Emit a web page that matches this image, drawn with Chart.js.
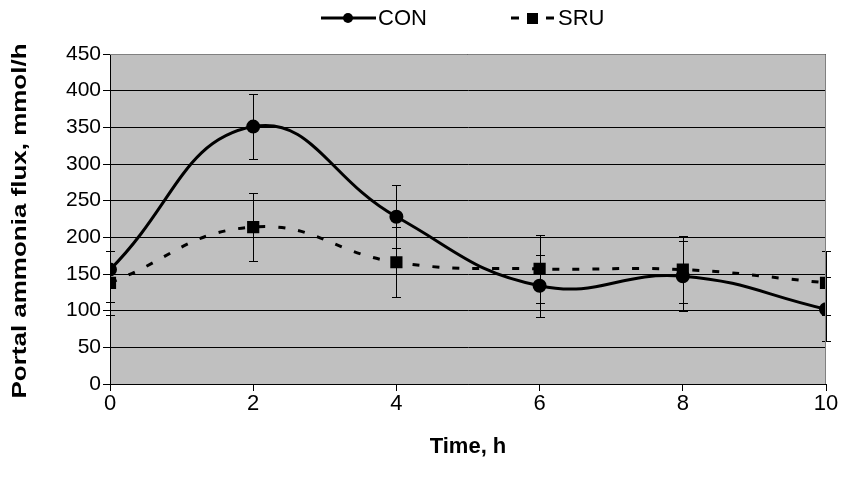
<!DOCTYPE html>
<html>
<head>
<meta charset="utf-8">
<script src="https://cdn.jsdelivr.net/npm/chart.js@4"></script>
<style>
  html, body { margin: 0; padding: 0; background: #fff; }
  #wrap { width: 851px; height: 486px; }
</style>
</head>
<body>
<div id="wrap"><canvas id="c" width="851" height="486"></canvas></div>
<script>
// values
const times = [0, 2, 4, 6, 8, 10];
const conValues = [156, 351, 228, 134, 147, 102];
const conErrors = [44, 44, 43, 42, 48, 44];
const sruValues = [138, 214, 166, 157, 156, 138];
const sruErrors = [44, 46, 48, 46, 46, 44];
const yTicks = [0, 50, 100, 150, 200, 250, 300, 350, 400, 450];
const yTitle = 'Portal ammonia flux, mmol/h';

const toPoints = (xs, ys) => xs.map((x, i) => ({ x: x, y: ys[i] }));

// grey plot area with border
const plotArea = {
  id: 'plotArea',
  beforeDraw(chart) {
    const { ctx, chartArea: a } = chart;
    ctx.save();
    ctx.fillStyle = '#c0c0c0';
    ctx.fillRect(a.left, a.top, a.right - a.left, a.bottom - a.top);
    ctx.restore();
  },
  afterDraw(chart) {
    const { ctx, chartArea: a } = chart;
    ctx.save();
    ctx.strokeStyle = '#808080';
    ctx.lineWidth = 1;
    ctx.beginPath();
    ctx.moveTo(a.left, a.top + 0.5);
    ctx.lineTo(a.right - 0.5, a.top + 0.5);
    ctx.lineTo(a.right - 0.5, a.bottom);
    ctx.stroke();
    ctx.restore();
  }
};

// error bars through the scales
const errorBars = {
  id: 'errorBars',
  beforeDatasetsDraw(chart) {
    const { ctx, scales: { x, y } } = chart;
    const sets = [[conValues, conErrors], [sruValues, sruErrors]];
    ctx.save();
    ctx.strokeStyle = '#000';
    ctx.lineWidth = 1;
    sets.forEach(([vals, errs]) => {
      times.forEach((t, i) => {
        const px = Math.round(x.getPixelForValue(t)) + 0.5;
        const top = Math.round(y.getPixelForValue(vals[i] + errs[i])) + 0.5;
        const bot = Math.round(y.getPixelForValue(vals[i] - errs[i])) + 0.5;
        ctx.beginPath();
        ctx.moveTo(px, top); ctx.lineTo(px, bot);
        ctx.moveTo(px - 4.5, top); ctx.lineTo(px + 4.5, top);
        ctx.moveTo(px - 4.5, bot); ctx.lineTo(px + 4.5, bot);
        ctx.stroke();
      });
    });
    ctx.restore();
  }
};

// legend drawn at the top, like the original
const topLegend = {
  id: 'topLegend',
  afterDraw(chart) {
    const ctx = chart.ctx;
    const yy = 18;
    ctx.save();
    ctx.strokeStyle = '#000';
    ctx.fillStyle = '#000';
    ctx.lineWidth = 3;
    ctx.beginPath();
    ctx.moveTo(321, yy); ctx.lineTo(376, yy);
    ctx.stroke();
    ctx.beginPath();
    ctx.arc(348, yy, 5, 0, Math.PI * 2);
    ctx.fill();
    ctx.fillRect(511, yy - 1.5, 8, 3);
    ctx.fillRect(527, yy - 5, 11, 11);
    ctx.fillRect(546, yy - 1.5, 8, 3);
    ctx.font = '22px "Liberation Sans", Arial, sans-serif';
    ctx.textBaseline = 'middle';
    ctx.fillText('CON', 378, yy + 1);
    ctx.fillText('SRU', 558, yy + 1);
    ctx.restore();
  }
};

// rotated y title, stretched along its length like the original
const yAxisTitle = {
  id: 'yAxisTitle',
  afterDraw(chart) {
    const { ctx, chartArea: a } = chart;
    ctx.save();
    ctx.font = 'bold 21px "Liberation Sans", Arial, sans-serif';
    ctx.fillStyle = '#000';
    ctx.textAlign = 'center';
    ctx.textBaseline = 'middle';
    const w = ctx.measureText(yTitle).width;
    ctx.translate(20, (a.top + a.bottom) / 2 + 2);
    ctx.rotate(-Math.PI / 2);
    ctx.scale(355 / w, 1);
    ctx.fillText(yTitle, 0, 0);
    ctx.restore();
  }
};

new Chart(document.getElementById('c'), {
  type: 'line',
  data: {
    datasets: [
      {
        label: 'CON',
        data: toPoints(times, conValues),
        borderColor: '#000',
        backgroundColor: '#000',
        borderWidth: 3,
        pointStyle: 'circle',
        pointRadius: 5.5,
        tension: 0.45
      },
      {
        label: 'SRU',
        data: toPoints(times, sruValues),
        borderColor: '#000',
        backgroundColor: '#000',
        borderWidth: 3,
        borderDash: [7, 13],
        pointStyle: 'rect',
        pointRadius: 6.5,
        tension: 0.45
      }
    ]
  },
  options: {
    responsive: false,
    animation: false,
    layout: { padding: { left: 0, right: 25, top: 54, bottom: 0 } },
    plugins: {
      legend: { display: false },
      tooltip: { enabled: false }
    },
    scales: {
      x: {
        type: 'linear',
        min: 0,
        max: 10,
        afterBuildTicks(axis) { axis.ticks = times.map(v => ({ value: v })); },
        afterFit(axis) { axis.height = 102; },
        grid: { drawOnChartArea: false, drawTicks: true, tickLength: 7, color: '#000' },
        border: { display: true, color: '#000', width: 1 },
        ticks: {
          color: '#000',
          padding: 0,
          font: { family: '"Liberation Sans Narrow", "Liberation Sans", Arial, sans-serif', size: 22 }
        },
        title: {
          display: true,
          text: 'Time, h',
          color: '#000',
          padding: { top: 0, bottom: 26 },
          font: { family: '"Liberation Sans Narrow", "Liberation Sans", Arial, sans-serif', size: 22, weight: 'bold' }
        }
      },
      y: {
        min: 0,
        max: 450,
        afterBuildTicks(axis) { axis.ticks = yTicks.map(v => ({ value: v })); },
        afterFit(axis) { axis.width = 110; },
        grid: { color: '#000', lineWidth: 1, drawTicks: true, tickLength: 7, tickColor: '#000' },
        border: { display: true, color: '#000', width: 1 },
        ticks: {
          color: '#000',
          padding: 2,
          font: { family: '"Liberation Sans", Arial, sans-serif', size: 21 }
        },
        title: { display: false }
      }
    }
  },
  plugins: [plotArea, errorBars, topLegend, yAxisTitle]
});
</script>
</body>
</html>
